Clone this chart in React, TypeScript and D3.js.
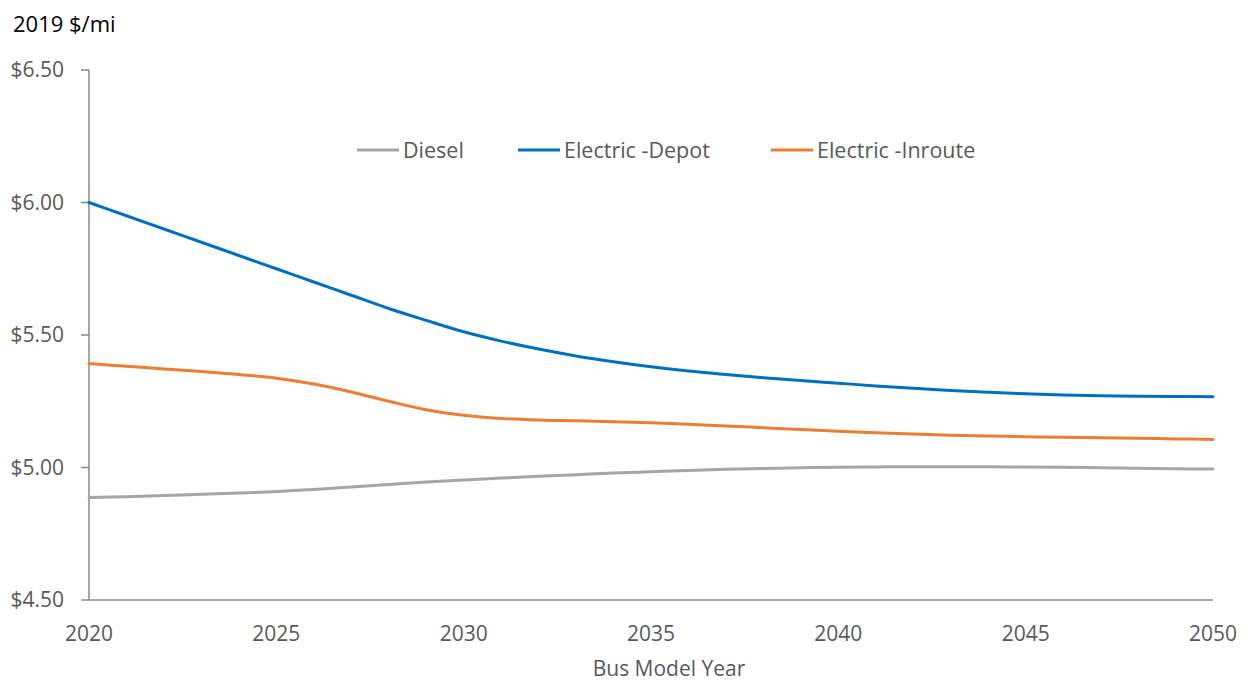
import React from "react";
import * as d3 from "d3";

// Bus model years, one point per year
const years: number[] = d3.range(2020, 2051);

// Cost per mile in 2019 dollars
const diesel: number[] = [
  4.887, 4.89, 4.894, 4.899, 4.904, 4.909, 4.917, 4.926, 4.936, 4.945,
  4.953, 4.96, 4.967, 4.973, 4.979, 4.984, 4.989, 4.993, 4.996, 4.999,
  5.001, 5.002, 5.003, 5.003, 5.003, 5.002, 5.001, 4.999, 4.997, 4.995,
  4.994,
];
const electricDepot: number[] = [
  6.0, 5.95, 5.9, 5.85, 5.8, 5.75, 5.7, 5.65, 5.6, 5.555,
  5.512, 5.477, 5.447, 5.421, 5.399, 5.38, 5.364, 5.351, 5.339, 5.328,
  5.318, 5.308, 5.299, 5.291, 5.284, 5.278, 5.274, 5.271, 5.269, 5.268,
  5.267,
];
const electricInroute: number[] = [
  5.392, 5.382, 5.372, 5.362, 5.351, 5.337, 5.315, 5.285, 5.25, 5.218,
  5.197, 5.185, 5.179, 5.176, 5.173, 5.169, 5.163, 5.157, 5.15, 5.143,
  5.137, 5.131, 5.126, 5.122, 5.119, 5.116, 5.114, 5.112, 5.11, 5.108,
  5.106,
];

const seriesNames: string[] = ["Diesel", "Electric -Depot", "Electric -Inroute"];
const seriesColors: string[] = ["#A5A5A5", "#0070C0", "#ED7D31"];
const xTicks: number[] = [2020, 2025, 2030, 2035, 2040, 2045, 2050];
const yTicks: number[] = [4.5, 5.0, 5.5, 6.0, 6.5];

const W = 1250;
const H = 683;
const FONT = "'Open Sans', sans-serif";

export default function App() {
  const x = d3.scaleLinear().domain([2020, 2050]).range([89, 1213]);
  const y = d3.scaleLinear().domain([4.5, 6.5]).range([600, 70]);
  const seriesData = [diesel, electricDepot, electricInroute];
  const line = d3
    .line<number>()
    .x((_, i) => x(years[i]))
    .y((v) => y(v))
    .curve(d3.curveCatmullRom.alpha(0.5));

  const legendX = [357, 518, 771];
  const axisColor = "#898989";
  const labelColor = "#595959";

  return (
    <svg
      width={W}
      height={H}
      style={{ position: "absolute", left: 0, top: 0, background: "#fff" }}
      fontFamily={FONT}
    >
      <rect x={0} y={0} width={W} height={H} fill="#fff" />
      <text x={13} y={32} fontSize={22} fill="#000">
        2019 $/mi
      </text>

      {/* y axis */}
      <line x1={x(2020)} x2={x(2020)} y1={y(6.5)} y2={y(4.5)} stroke={axisColor} strokeWidth={1.5} />
      {yTicks.map((t) => (
        <g key={t}>
          <line x1={x(2020) - 8} x2={x(2020)} y1={y(t)} y2={y(t)} stroke={axisColor} strokeWidth={1.5} />
          <text
            x={64}
            y={y(t)}
            dy="0.35em"
            textAnchor="end"
            fontSize={21}
            fill={labelColor}
          >
            {d3.format("$.2f")(t)}
          </text>
        </g>
      ))}

      {/* x axis */}
      <line x1={x(2020)} x2={x(2050)} y1={y(4.5)} y2={y(4.5)} stroke={axisColor} strokeWidth={1.5} />
      {xTicks.map((t) => (
        <text key={t} x={x(t)} y={641} textAnchor="middle" fontSize={21} fill={labelColor}>
          {t}
        </text>
      ))}
      <text x={669} y={676} textAnchor="middle" fontSize={21} fill={labelColor}>
        Bus Model Year
      </text>

      {/* series */}
      {seriesData.map((d, i) => (
        <path
          key={seriesNames[i]}
          d={line(d) || ""}
          fill="none"
          stroke={seriesColors[i]}
          strokeWidth={3}
          strokeLinejoin="round"
          strokeLinecap="round"
        />
      ))}

      {/* legend */}
      {seriesNames.map((name, i) => (
        <g key={name}>
          <line
            x1={legendX[i]}
            x2={legendX[i] + 42}
            y1={150}
            y2={150}
            stroke={seriesColors[i]}
            strokeWidth={3}
          />
          <text x={legendX[i] + 46} y={150} dy="0.35em" fontSize={21.5} fill={labelColor}>
            {name}
          </text>
        </g>
      ))}
    </svg>
  );
}
